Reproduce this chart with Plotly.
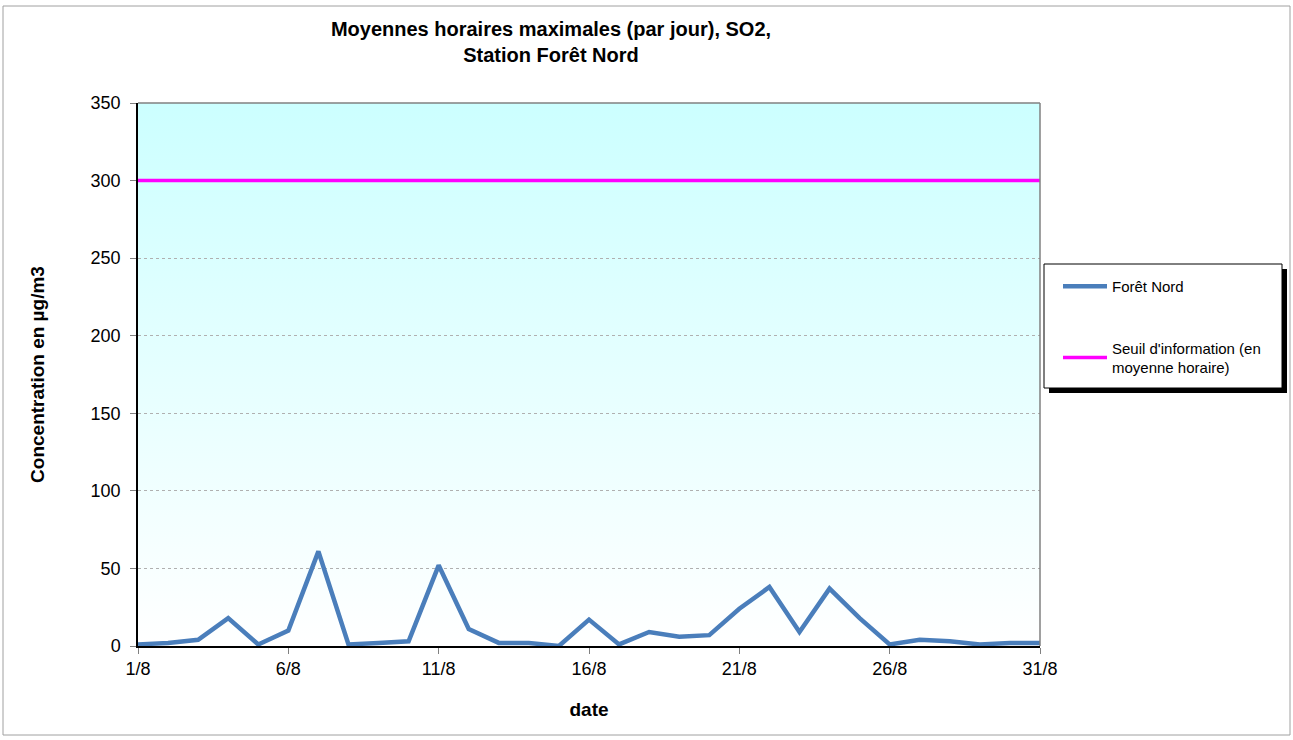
import base64
import plotly.graph_objects as go

days = list(range(1, 32))
day_labels = [f"{d}/8" for d in days]
tick_days = [1, 6, 11, 16, 21, 26, 31]
tick_labels = [f"{d}/8" for d in tick_days]
foret_nord = [1, 2, 4, 18, 1, 10, 61, 1, 2, 3, 52, 11, 2, 2, 0, 17, 1, 9, 6, 7,
              24, 38, 9, 37, 18, 1, 4, 3, 1, 2, 2]
seuil = [300] * 31
y_min, y_max = 0, 350

W, H = 1293, 740
L, R, T, B = 138, 1040, 103, 646

def px_x(p):
    return (p - L) / (R - L)

def px_y(p):
    return (B - p) / (B - T)

svg = ('<svg xmlns="http://www.w3.org/2000/svg" width="100" height="100" '
       'viewBox="0 0 100 100" preserveAspectRatio="none"><defs>'
       '<linearGradient id="g" x1="0" y1="0" x2="0" y2="1">'
       '<stop offset="0" stop-color="#ccffff"/><stop offset="1" stop-color="#ffffff"/>'
       '</linearGradient></defs><rect width="100" height="100" fill="url(#g)"/></svg>')
svg_uri = "data:image/svg+xml;base64," + base64.b64encode(svg.encode()).decode()

fig = go.Figure()

fig.add_trace(go.Scatter(
    x=days, y=foret_nord, mode="lines", name="Forêt Nord",
    line=dict(color="#4a7ebb", width=4.5), legendgroup="a",
    text=day_labels,
))
fig.add_trace(go.Scatter(
    x=days, y=seuil, mode="lines", name="Seuil d'information (en<br>moyenne horaire)",
    line=dict(color="#ff00ff", width=3.5), legendgroup="b",
    text=day_labels,
))

shapes = [
    # outer chart border
    dict(type="rect", xref="paper", yref="paper",
         x0=px_x(3), x1=px_x(1290), y0=px_y(735), y1=px_y(6),
         line=dict(color="#a0a0a0", width=1), fillcolor="rgba(0,0,0,0)", layer="below"),
    # legend shadow
    dict(type="rect", xref="paper", yref="paper",
         x0=px_x(1049), x1=px_x(1287), y0=px_y(393), y1=px_y(269),
         line=dict(width=0), fillcolor="black", layer="above"),
    # legend box
    dict(type="rect", xref="paper", yref="paper",
         x0=px_x(1044), x1=px_x(1282), y0=px_y(388), y1=px_y(264),
         line=dict(color="black", width=1), fillcolor="white", layer="above"),
    # plot border top/right
    dict(type="line", xref="paper", yref="paper", x0=0, x1=1, y0=1, y1=1,
         line=dict(color="#808080", width=1.5)),
    dict(type="line", xref="paper", yref="paper", x0=1, x1=1, y0=0, y1=1,
         line=dict(color="#808080", width=1.5)),
]

fig.update_layout(
    width=W, height=H,
    margin=dict(l=L, r=W - R, t=T, b=H - B),
    paper_bgcolor="white",
    plot_bgcolor="white",
    font=dict(family="Liberation Sans, Arial, sans-serif", size=18, color="black"),
    images=[dict(source=svg_uri, xref="x", yref="y", x=days[0], y=y_max,
                 sizex=days[-1] - days[0], sizey=y_max - y_min, sizing="stretch",
                 xanchor="left", yanchor="top", layer="below")],
    title=dict(
        text="<b>Moyennes horaires maximales (par jour), SO2,<br>Station Forêt Nord</b>",
        x=551 / W, xanchor="center", y=1 - 36 / H, yanchor="top",
        font=dict(size=20, color="black"),
    ),
    xaxis=dict(
        range=[days[0], days[-1]], tickvals=tick_days, ticktext=tick_labels,
        showgrid=False, zeroline=False, showline=True, linecolor="black", linewidth=1.5,
        ticks="outside", ticklen=6, tickcolor="#808080",
        title=dict(text="<b>date</b>", font=dict(size=19), standoff=24),
        tickfont=dict(size=18),
    ),
    yaxis=dict(
        range=[y_min, y_max], tickvals=list(range(0, 351, 50)),
        showgrid=True, gridcolor="#b0b0b0", griddash="dot", gridwidth=1,
        zeroline=False, showline=True, linecolor="black", linewidth=1.5,
        ticks="outside", ticklen=6, tickcolor="#808080", ticklabelstandoff=6,
        title=dict(text="<b>Concentration en µg/m3</b>", font=dict(size=19), standoff=41),
        tickfont=dict(size=18),
    ),
    legend=dict(
        x=px_x(1058), y=px_y(270), xanchor="left", yanchor="top",
        bgcolor="rgba(0,0,0,0)", borderwidth=0, itemwidth=44,
        font=dict(size=15), tracegroupgap=39, traceorder="grouped",
    ),
    shapes=shapes,
    showlegend=True,
)

fig.write_html("out.html", config={"displayModeBar": False},
               post_script="document.body.style.margin='0px';")
